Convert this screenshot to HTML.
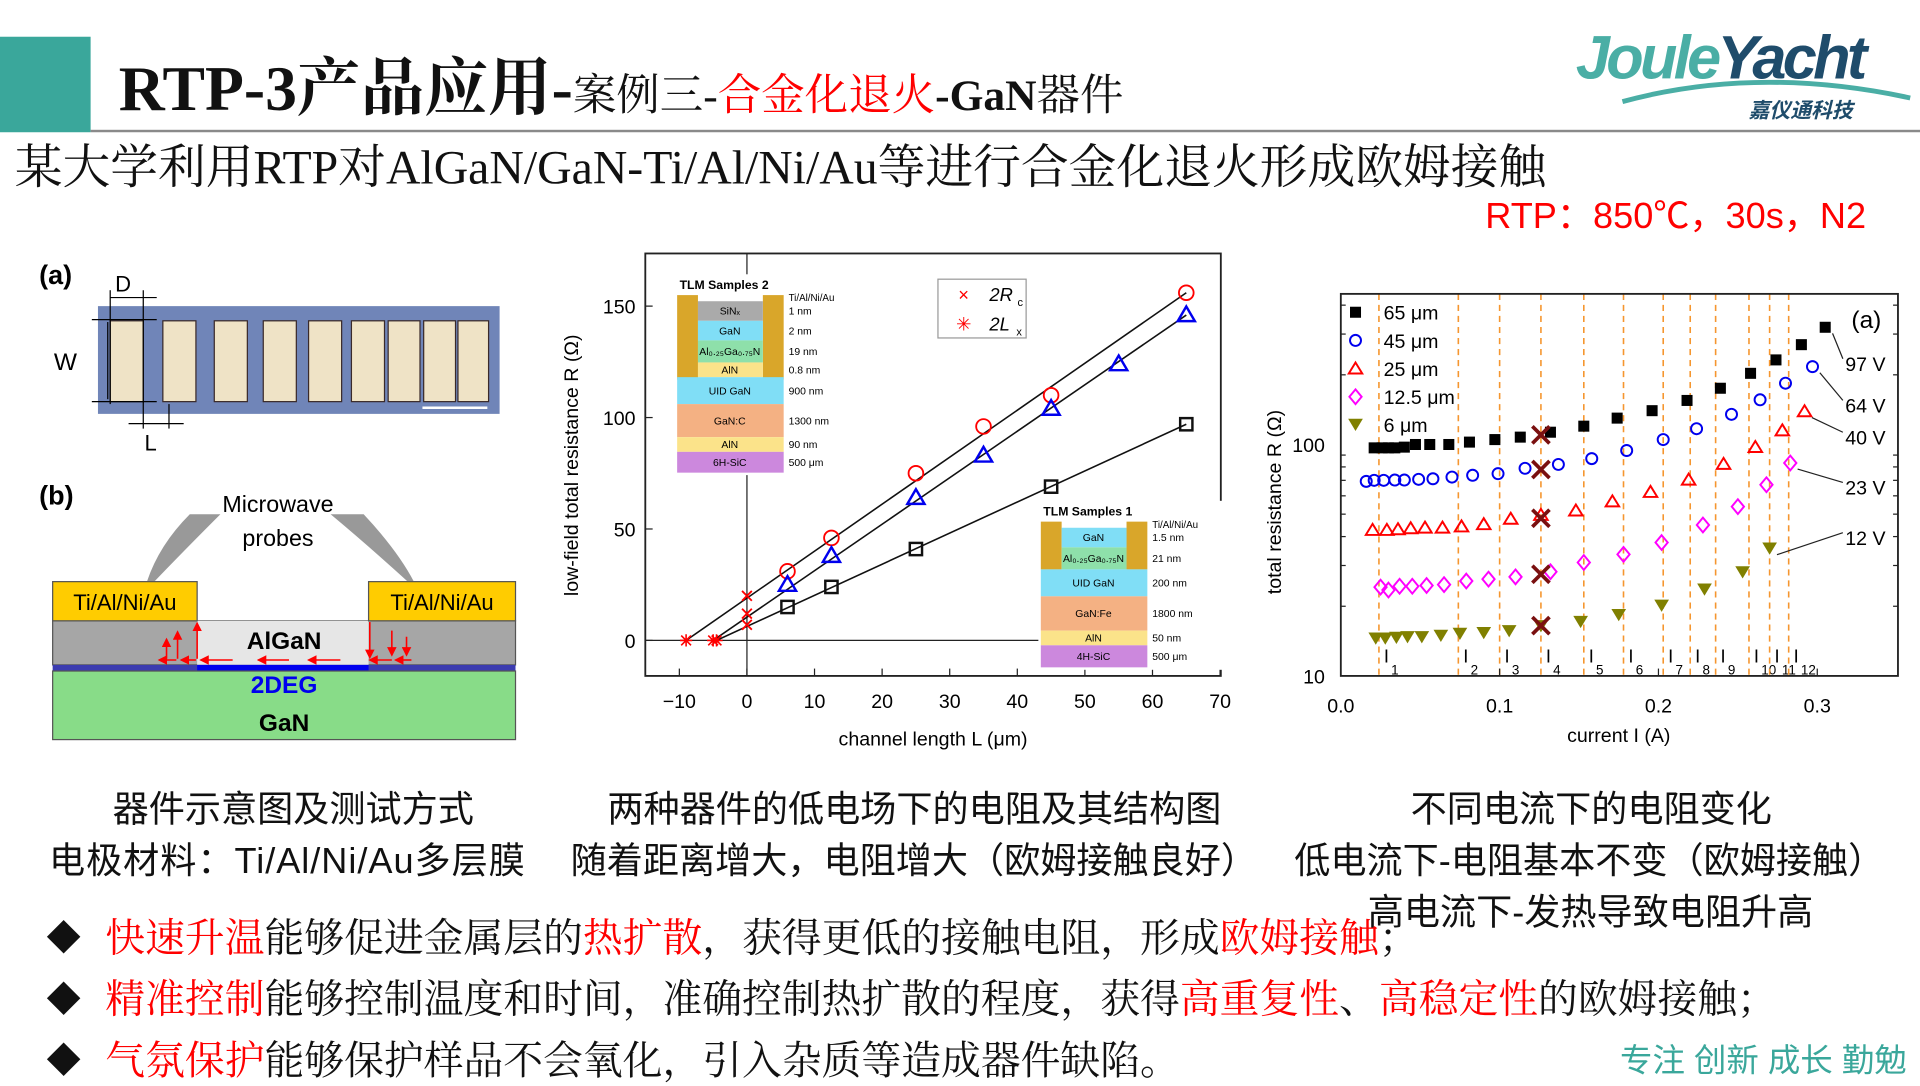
<!DOCTYPE html>
<html><head><meta charset="utf-8">
<style>
html,body{margin:0;padding:0;background:#fff;width:1920px;height:1080px;overflow:hidden}
#stage{position:absolute;left:0;top:0;width:1568px;height:882px;transform:scale(1.22449);transform-origin:0 0;font-family:"Liberation Sans","Noto Sans CJK SC",sans-serif}
.t{position:absolute;white-space:nowrap}
.cap{font-size:29.5px;color:#111;font-family:"Liberation Sans","Noto Sans CJK SC",sans-serif}
.bul{font-size:32.5px;color:#111;font-family:"Liberation Serif","Noto Serif CJK SC",serif}
.dia{position:absolute;font-size:28px;color:#111;left:38px}
.r{color:#ff0000}
</style></head><body>
<div id="stage">
<div class="t" style="left:0;top:30px;width:74px;height:78px;background:#3aa79b"></div>
<div class="t" style="left:74px;top:106px;width:1494px;height:2px;background:#8a8a8a"></div>
<div class="t" style="left:97px;top:30px;font-family:'Liberation Serif','Noto Serif CJK SC',serif;color:#111"><b style="font-size:52px">RTP-3产品应用-</b><span style="font-size:35.5px">案例三-</span><span style="font-size:35.5px" class="r">合金化退火</span><b style="font-size:35.5px">-GaN</b><span style="font-size:35.5px">器件</span></div>
<div class="t" style="left:1285px;top:18px;width:280px;height:80px">
 <div class="t" style="left:2px;top:0;font:italic bold 50px 'Liberation Sans',sans-serif;letter-spacing:-3px"><span style="color:#4aaea5">Joule</span><span style="color:#1f4c6b">Yacht</span></div>
 <svg class="t" style="left:0;top:40px" width="280" height="40"><path d="M40 25 Q150 -5 275 22" stroke="#4aaea5" stroke-width="4" fill="none"/></svg>
 <div class="t" style="left:143px;top:58px;font:italic bold 17px 'Noto Sans CJK SC',sans-serif;color:#1f4c6b">嘉仪通科技</div>
</div>
<div class="t" style="left:12px;top:106px;font-size:39px;font-family:'Liberation Serif','Noto Serif CJK SC',serif;color:#111">某大学利用RTP对AlGaN/GaN-Ti/Al/Ni/Au等进行合金化退火形成欧姆接触</div>
<div class="t r" style="left:1213px;top:153px;font-size:29.5px;font-family:'Liberation Sans','Noto Sans CJK SC',sans-serif">RTP：850℃，30s，N2</div>

<svg class="t" style="left:0;top:0" width="1568" height="882" id="svg" font-family="Liberation Sans, sans-serif">
 <defs><marker id="ah" markerWidth="6" markerHeight="6" refX="5" refY="3" orient="auto"><path d="M0 0L6 3L0 6Z" fill="red"/></marker></defs>
 <g>
  <text x="32" y="232" font-size="22" font-weight="bold">(a)</text>
  <rect x="80" y="250" width="328" height="88" fill="#7085b8"/>
  <g id="pads"></g>
  <line x1="75" y1="261" x2="128" y2="261" stroke="#000"/><line x1="75" y1="328" x2="128" y2="328" stroke="#000"/>
  <line x1="88" y1="263" x2="88" y2="326" stroke="#000"/>
  <text x="44" y="302" font-size="20">W</text>
  <line x1="90" y1="243" x2="128" y2="243" stroke="#000"/>
  <line x1="90" y1="237" x2="90" y2="330" stroke="#000"/><line x1="117" y1="237" x2="117" y2="350" stroke="#000"/><line x1="138" y1="330" x2="138" y2="350" stroke="#000"/>
  <text x="94" y="238" font-size="18">D</text>
  <line x1="105" y1="346" x2="150" y2="346" stroke="#000"/>
  <text x="118" y="368" font-size="18">L</text>
 </g>
 <g>
  <text x="32" y="412" font-size="22" font-weight="bold">(b)</text>
  <text x="227" y="418" font-size="19" text-anchor="middle">Microwave</text>
  <text x="227" y="446" font-size="19" text-anchor="middle">probes</text>
  <path d="M155 420 L180 420 Q150 450 126 475 L120 475 Q130 445 155 420Z" fill="#999"/>
  <path d="M270 420 L297 420 Q325 450 338 475 L333 475 Q300 445 270 420Z" fill="#999"/>
  <rect x="43" y="507" width="378" height="36" fill="#a6a6a6" stroke="#555"/>
  <rect x="161" y="507" width="140" height="36" fill="#e6e6e6"/>
  <rect x="43" y="543" width="378" height="5" fill="#3b3bb0"/>
  <rect x="161" y="543" width="140" height="5" fill="#0000ee"/>
  <rect x="43" y="548" width="378" height="56" fill="#88dc88" stroke="#555"/>
  <rect x="43" y="475" width="118" height="32" fill="#ffcc00" stroke="#555"/>
  <rect x="301" y="475" width="120" height="32" fill="#ffcc00" stroke="#555"/>
  <text x="102" y="498" font-size="18" text-anchor="middle">Ti/Al/Ni/Au</text>
  <text x="361" y="498" font-size="18" text-anchor="middle">Ti/Al/Ni/Au</text>
  <text x="232" y="530" font-size="20" font-weight="bold" text-anchor="middle">AlGaN</text>
  <text x="232" y="566" font-size="20" font-weight="bold" fill="#0000ee" text-anchor="middle">2DEG</text>
  <text x="232" y="597" font-size="20" font-weight="bold" text-anchor="middle">GaN</text>
  <g stroke="red" stroke-width="1.3" marker-end="url(#ah)">
   <line x1="190" y1="539" x2="164" y2="539"/><line x1="236" y1="539" x2="211" y2="539"/><line x1="278" y1="539" x2="252" y2="539"/>
   <line x1="160" y1="539" x2="148" y2="539"/><line x1="144" y1="539" x2="130" y2="539"/>
   <line x1="320" y1="539" x2="302" y2="539"/><line x1="336" y1="539" x2="323" y2="539"/>
   <line x1="161" y1="538" x2="161" y2="509"/><line x1="145" y1="538" x2="145" y2="516"/><line x1="136" y1="538" x2="136" y2="522"/>
   <line x1="302" y1="508" x2="302" y2="537"/><line x1="320" y1="515" x2="320" y2="535"/><line x1="332" y1="520" x2="332" y2="535"/>
  </g>
 </g>
 <g id="mid"></g>
 <g id="right"></g>
</svg>

<div class="t cap" style="left:92px;top:638px">器件示意图及测试方式</div>
<div class="t cap" style="left:40px;top:680px;letter-spacing:0.8px">电极材料：Ti/Al/Ni/Au多层膜</div>
<div class="t cap" style="left:496px;top:638px">两种器件的低电场下的电阻及其结构图</div>
<div class="t cap" style="left:466px;top:680px">随着距离增大，电阻增大（欧姆接触良好）</div>
<div class="t cap" style="left:1152px;top:638px">不同电流下的电阻变化</div>
<div class="t cap" style="left:1057px;top:680px">低电流下-电阻基本不变（欧姆接触）</div>
<div class="t cap" style="left:1117px;top:722px">高电流下-发热导致电阻升高</div>

<div class="t dia" style="top:745px">◆</div>
<div class="t dia" style="top:795px">◆</div>
<div class="t dia" style="top:845px">◆</div>
<div class="t bul" style="left:86px;top:741px"><span class="r">快速升温</span>能够促进金属层的<span class="r">热扩散</span>，获得更低的接触电阻，形成<span class="r">欧姆接触</span>；</div>
<div class="t bul" style="left:86px;top:791px"><span class="r">精准控制</span>能够控制温度和时间，准确控制热扩散的程度，获得<span class="r">高重复性</span>、<span class="r">高稳定性</span>的欧姆接触；</div>
<div class="t bul" style="left:86px;top:841px"><span class="r">气氛保护</span>能够保护样品不会氧化，引入杂质等造成器件缺陷。</div>
<div class="t" style="left:1323px;top:844px;font-size:26.5px;color:#3aa79b;font-family:'Liberation Sans','Noto Sans CJK SC',sans-serif">专注 创新 成长 勤勉</div>
</div>

<script>
// ---- middle chart data ----
const midXTicks=[-10,0,10,20,30,40,50,60,70];
const midYTicks=[0,50,100,150];
const circL=[6,12.5,25,35,45,65];
const circR=[31,46,75,96,110,156];
const triL=[6,12.5,25,35,45,55,65];
const triR=[25,38,64,83,104,124,146];
const sqL=[6,12.5,25,45,65];
const sqR=[15,24,41,69,97];
const rcVals=[20,12,7];
const lxVals=[-9,-5,-4.5];
// ---- right chart data ----
const sqI=[.021,.026,.030,.034,.040,.047,.056,.068,.081,.097,.113,.132,.153,.174,.196,.218,.239,.258,.274,.290,.305];
const sqRes=[96.7,96.7,96.7,96.7,97.4,100,100,100,102.4,105,107.6,113,120,130,140,155,175,203,232,270,321];
const ciI=[.016,.021,.027,.034,.040,.049,.058,.070,.083,.099,.116,.137,.158,.180,.203,.224,.246,.264,.280,.297];
const ciRes=[69.3,70,70,70.2,70.2,70.7,71.1,72.3,73.6,74.8,78.9,82,86.9,94.2,105,117,135,156,184,217];
const trI=[.020,.029,.036,.044,.053,.064,.076,.090,.107,.126,.148,.171,.195,.219,.241,.261,.278,.292];
const trRes=[42.7,42.7,43,43.4,43.7,43.7,44.2,45.2,47.7,49.6,51.8,56.7,62.3,70.4,82.4,97.4,115,139];
const diI=[.025,.030,.037,.045,.054,.065,.079,.093,.110,.132,.153,.178,.202,.228,.250,.268,.283];
const diRes=[24.2,23.5,24.4,24.4,24.6,24.8,25.7,26.2,26.8,28.2,30.9,33.5,37.7,44.9,53.9,67,83.2];
const tdI=[.022,.028,.035,.042,.051,.063,.075,.090,.106,.126,.151,.175,.202,.229,.253,.270];
const tdRes=[14.5,14.5,14.6,14.7,14.7,14.9,15.2,15.3,15.6,16.4,17.1,18.3,20.1,23.6,28,35.5];
const dashI=[.024,.074,.100,.126,.153,.178,.203,.220,.236,.257,.270,.282];
const xMarkRes=[110,78,48,27.5,16.5];
const rightXTicks=[0,0.1,0.2,0.3];
const voltLabels=['97 V','64 V','40 V','23 V','12 V'];
const voltY=[297,331,357,398,439];

const NS='http://www.w3.org/2000/svg';
function mk(parent,tag,attrs,text){const e=document.createElementNS(NS,tag);for(const k in attrs)e.setAttribute(k,attrs[k]);if(text!==undefined)e.textContent=text;parent.appendChild(e);return e;}

const pads=document.getElementById('pads');
[[90,117],[133,160],[175,202],[215,242],[252,279],[287,314],[317,343],[346,372],[374,399]].forEach(p=>{mk(pads,'rect',{x:p[0],y:262,width:p[1]-p[0],height:66,fill:'#efe3c6',stroke:'#3a2a2a','stroke-width':1});});
mk(pads,'line',{x1:345,y1:333,x2:398,y2:333,stroke:'#fff','stroke-width':2});

// ---------- middle chart ----------
const mid=document.getElementById('mid');
const mx=v=>610+v*5.52, my=v=>523-v*1.82;
mk(mid,'rect',{x:527,y:207,width:470,height:345,fill:'none',stroke:'#222','stroke-width':1.5});
midXTicks.forEach(t=>{
 const e=mk(mid,'line',{x1:mx(t),y1:552,x2:mx(t),y2:546,stroke:'#222'});
 
 const l=mk(mid,'text',{x:mx(t),y:578,'font-size':16,'text-anchor':'middle'},t===-10?'−10':String(t));
 
});
midYTicks.forEach(t=>{
 mk(mid,'line',{x1:527,y1:my(t),x2:533,y2:my(t),stroke:'#222'});
 const l=mk(mid,'text',{x:519,y:my(t)+6,'font-size':16,'text-anchor':'end'},String(t));
 
});
mk(mid,'line',{x1:527,y1:my(0),x2:997,y2:my(0),stroke:'#222'});
mk(mid,'line',{x1:mx(0),y1:207,x2:mx(0),y2:552,stroke:'#222'});
mk(mid,'text',{x:762,y:609,'font-size':16,'text-anchor':'middle'},'channel length L (μm)');
const yt=mk(mid,'text',{x:0,y:0,'font-size':16,'text-anchor':'middle',transform:'translate(472,380) rotate(-90)'},'low-field total resistance R (Ω)');

[[lxVals[0],circL,circR],[lxVals[1],triL,triR],[lxVals[2],sqL,sqR]].forEach(s=>{
 const n=s[1].length-1;
 const ln=mk(mid,'line',{x1:mx(s[0]),y1:my(0),x2:mx(s[1][n]),y2:my(s[2][n]),stroke:'#111','stroke-width':1.3});
 
});
function inset(x0,yTop,title,layers,labels,goldEnd){
 const g=mk(mid,'g',{});
 
 mk(g,'rect',{x:x0-2,y:yTop-12,width:150,height:layers[layers.length-1][1]-yTop+14,fill:'#fff'});
 mk(g,'text',{x:x0+2,y:yTop,'font-size':10,'font-weight':'bold'},title);
 mk(g,'rect',{x:x0,y:yTop+5,width:17,height:goldEnd-yTop-5,fill:'#d9a62a'});
 mk(g,'rect',{x:x0+70,y:yTop+5,width:17,height:goldEnd-yTop-5,fill:'#d9a62a'});
 mk(g,'text',{x:x0+91,y:yTop+10,'font-size':8},'Ti/Al/Ni/Au');
 layers.forEach((L,i)=>{
  const full=L[0]>=goldEnd-2;
  mk(g,'rect',{x:full?x0:x0+17,y:L[0],width:full?87:53,height:L[1]-L[0],fill:L[2]});
  mk(g,'text',{x:x0+43,y:(L[0]+L[1])/2+3,'font-size':8.5,'text-anchor':'middle'},L[3]);
  mk(g,'text',{x:x0+91,y:(L[0]+L[1])/2+3,'font-size':8.5},labels[i]);
 });
}
inset(553,236,'TLM Samples 2',[[246,262,'#aaa','SiNₓ'],[262,278,'#80def6','GaN'],[278,296,'#8ee0aa','Al₀.₂₅Ga₀.₇₅N'],[296,308,'#fbe38a','AlN'],[308,330,'#80def6','UID GaN'],[330,357,'#f4b183','GaN:C'],[357,369,'#fbe38a','AlN'],[369,386,'#cc88dd','6H-SiC']],['1 nm','2 nm','19 nm','0.8 nm','900 nm','1300 nm','90 nm','500 μm'],310);
inset(850,421,'TLM Samples 1',[[431,447,'#80def6','GaN'],[447,465,'#8ee0aa','Al₀.₂₅Ga₀.₇₅N'],[465,487,'#80def6','UID GaN'],[487,515,'#f4b183','GaN:Fe'],[515,527,'#fbe38a','AlN'],[527,545,'#cc88dd','4H-SiC']],['1.5 nm','21 nm','200 nm','1800 nm','50 nm','500 μm'],465);
const lg=mk(mid,'g',{});

mk(lg,'rect',{x:766,y:228,width:72,height:48,fill:'#fff',stroke:'#999'});
mk(lg,'text',{x:787,y:246,'font-size':15,fill:'red','text-anchor':'middle'},'×');
mk(lg,'text',{x:787,y:270,'font-size':15,fill:'red','text-anchor':'middle'},'✳');
mk(lg,'text',{x:808,y:246,'font-size':15,'font-style':'italic'},'2R');
mk(lg,'text',{x:831,y:250,'font-size':9},'c');
mk(lg,'text',{x:808,y:270,'font-size':15,'font-style':'italic'},'2L');
mk(lg,'text',{x:830,y:274,'font-size':9},'x');
circL.forEach((v,i)=>{const c=mk(mid,'circle',{cx:mx(v),cy:my(circR[i]),r:6,fill:'none',stroke:'red','stroke-width':1.5});});
triL.forEach((v,i)=>{const x=mx(v),y=my(triR[i]);const p=mk(mid,'path',{d:`M${x} ${y-7}L${x+7} ${y+5}L${x-7} ${y+5}Z`,fill:'none',stroke:'#0000ee','stroke-width':2});});
sqL.forEach((v,i)=>{const x=mx(v),y=my(sqR[i]);const p=mk(mid,'rect',{x:x-5,y:y-5,width:10,height:10,fill:'none',stroke:'#111','stroke-width':2});});
rcVals.forEach(v=>{const x=mx(0),y=my(v);const p=mk(mid,'path',{d:`M${x-4} ${y-4}L${x+4} ${y+4}M${x+4} ${y-4}L${x-4} ${y+4}`,stroke:'red','stroke-width':1.5});});
lxVals.forEach(v=>{const x=mx(v),y=my(0);const p=mk(mid,'path',{d:`M${x-4} ${y-4}L${x+4} ${y+4}M${x+4} ${y-4}L${x-4} ${y+4}M${x} ${y-5}V${y+5}M${x-5} ${y}H${x+5}`,stroke:'red','stroke-width':1.3});});

// ---------- right chart ----------
const rt=document.getElementById('right');
const rx=I=>1095+I*1297, ry=R=>552-(Math.log10(R)-1)*189;
dashI.forEach((I,i)=>{
 const d=mk(rt,'line',{x1:rx(I),y1:240,x2:rx(I),y2:552,stroke:'#f5962f','stroke-width':1.3,'stroke-dasharray':'5,4'});
 
 const t=mk(rt,'text',{x:rx(I)+4,y:541,'font-size':15},'I');
 
 mk(rt,'text',{x:rx(I)+10,y:551,'font-size':11},String(i+1));
});
mk(rt,'rect',{x:1095,y:240,width:455,height:312,fill:'none',stroke:'#222','stroke-width':1.5});
rightXTicks.forEach(t=>{
 mk(rt,'line',{x1:rx(t),y1:552,x2:rx(t),y2:546,stroke:'#222'});
 const l=mk(rt,'text',{x:rx(t),y:582,'font-size':16,'text-anchor':'middle'},t.toFixed(1));
 
});
[10,100].forEach(t=>{const l=mk(rt,'text',{x:1082,y:ry(t)+6,'font-size':16,'text-anchor':'end'},String(t));});
[20,30,40,50,60,70,80,90,200,300,400].forEach(t=>{mk(rt,'line',{x1:1095,y1:ry(t),x2:1099,y2:ry(t),stroke:'#222'});mk(rt,'line',{x1:1550,y1:ry(t),x2:1546,y2:ry(t),stroke:'#222'});});
mk(rt,'text',{x:1322,y:606,'font-size':16,'text-anchor':'middle'},'current I (A)');
mk(rt,'text',{x:0,y:0,'font-size':16,'text-anchor':'middle',transform:'translate(1046,410) rotate(-90)'},'total resistance R (Ω)');
mk(rt,'text',{x:1512,y:268,'font-size':20},'(a)');
function sym(g,type,x,y){
 if(type==='sq')return mk(g,'rect',{x:x-4.5,y:y-4.5,width:9,height:9,fill:'#000'});
 if(type==='ci')return mk(g,'circle',{cx:x,cy:y,r:4.5,fill:'none',stroke:'#0000ee','stroke-width':1.6});
 if(type==='tr')return mk(g,'path',{d:`M${x} ${y-5}L${x+5.5} ${y+4}L${x-5.5} ${y+4}Z`,fill:'none',stroke:'red','stroke-width':1.6});
 if(type==='di')return mk(g,'path',{d:`M${x} ${y-6}L${x+5} ${y}L${x} ${y+6}L${x-5} ${y}Z`,fill:'none',stroke:'#ff00ff','stroke-width':1.6});
 return mk(g,'path',{d:`M${x-6} ${y-5}L${x+6} ${y-5}L${x} ${y+5}Z`,fill:'#808000'});
}
[['sq',sqI,sqRes],['ci',ciI,ciRes],['tr',trI,trRes],['di',diI,diRes],['td',tdI,tdRes]].forEach(s=>{
 s[1].forEach((I,i)=>{const e=sym(rt,s[0],rx(I),ry(s[2][i]));});
});
xMarkRes.forEach(R=>{const x=rx(dashI[3]),y=ry(R);const p=mk(rt,'path',{d:`M${x-7} ${y-7}L${x+7} ${y+7}M${x+7} ${y-7}L${x-7} ${y+7}`,stroke:'#7a1010','stroke-width':3});});
const legT=['sq','ci','tr','di','td'], legL=['65 μm','45 μm','25 μm','12.5 μm','6 μm'];
legT.forEach((t,i)=>{const y=255+i*23;sym(rt,t,1107,y);const l=mk(rt,'text',{x:1130,y:y+6,'font-size':16},legL[i]);});
const lastPts=[[sqI,sqRes],[ciI,ciRes],[trI,trRes],[diI,diRes],[tdI,tdRes]];
voltLabels.forEach((v,i)=>{
 const a=lastPts[i][0],b=lastPts[i][1],n=a.length-1;
 mk(rt,'line',{x1:rx(a[n])+6,y1:ry(b[n])+5,x2:1505,y2:voltY[i]-4,stroke:'#222'});
 const l=mk(rt,'text',{x:1507,y:voltY[i]+6,'font-size':16},v);
 
});
</script>
</body></html>
